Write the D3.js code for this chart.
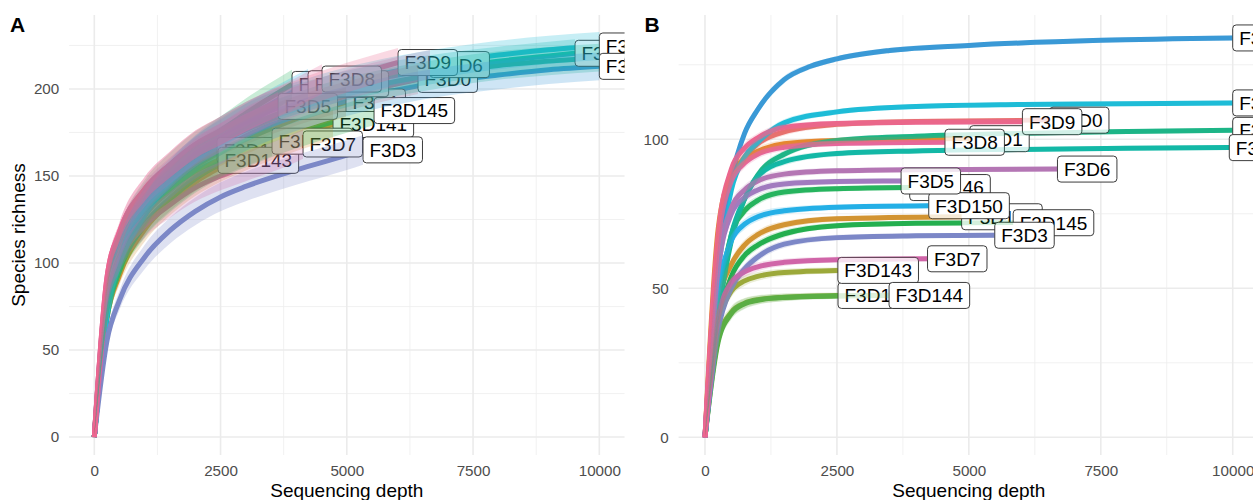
<!DOCTYPE html>
<html><head><meta charset="utf-8">
<script src="https://cdn.jsdelivr.net/npm/d3@7"></script>
<style>body{margin:0;background:#fff}svg{display:block}</style>
</head><body>
<svg id="c" width="1253" height="500"></svg>
<script>
// ---------- DATA ----------
const samples = ["F3D0","F3D1","F3D141","F3D142","F3D143","F3D144","F3D145","F3D146","F3D147","F3D148","F3D149","F3D150","F3D2","F3D3","F3D5","F3D6","F3D7","F3D8","F3D9"];
const sampleColors = ["#E8716F","#E5882F","#D39432","#7FAB3D","#9DA93A","#55B047","#25B04F","#26B45E","#1DB687","#13B8A7","#1EBCD7","#25B0E7","#3A99D6","#7C88C7","#A27BC0","#B476B5","#D066A8","#E7679A","#EC6690"];

const xTicks = [0, 2500, 5000, 7500, 10000];
const xMinor = [1250, 3750, 6250, 8750];
const yTicksA = [0, 50, 100, 150, 200];
const yMinorA = [25, 75, 125, 175, 225];
const yTicksB = [0, 50, 100];
const yMinorB = [25, 75, 125];

// ribbon half-width (sd) by depth
const sdDepths = [0, 250, 500, 1000, 2000, 3000, 5000, 10000];
const sdA = [0, 4, 5.5, 7, 8, 8.5, 8.5, 8];
const sdB = [0, 2.5, 2, 1.5, 1, 0.9, 0.8, 0.8];

// Panel A: [depth, richness]
const A_F3D0   = [[0,0],[250,85],[500,110.5],[1000,136],[1500,150.5],[2000,161.8],[2500,170],[3000,176.5],[4000,187.5],[5000,196],[6000,203],[6410,205.5]];
const A_F3D1   = [[0,0],[250,75.4],[500,101.7],[1000,128.7],[1500,143.5],[2000,155.5],[2500,164],[3000,171],[4000,183],[4984,192.5]];
const A_F3D141 = [[0,0],[250,68.2],[500,93],[1000,119.4],[1500,134.9],[2000,146.5],[2500,155],[3000,161.7],[4000,172.8],[4727,179.6]];
const A_F3D142 = [[0,0],[250,80.2],[500,106.9],[1000,133.6],[1500,147.8],[2000,159],[2430,164.7]];
const A_F3D143 = [[0,0],[250,76.5],[500,102],[1000,127.5],[1500,141.5],[2000,152.5],[2450,159]];
const A_F3D144 = [[0,0],[250,71],[500,96.4],[1000,122.5],[1500,137.5],[2000,149.3],[2500,158],[3000,164.3],[3519,170]];
const A_F3D145 = [[0,0],[250,70.7],[500,95.8],[1000,121.7],[1500,136.6],[2000,148.4],[2500,157],[3000,163.5],[4000,174.4],[5000,183.4],[5539,187.6]];
const A_F3D146 = [[0,0],[250,88],[500,114.4],[1000,140.8],[1500,155.8],[2000,167.6],[2500,176],[3000,186],[3915,202.6]];
const A_F3D147 = [[0,0],[250,68],[500,97],[1000,127.5],[1500,146.2],[2000,159.8],[2500,170],[3000,178],[4000,189.5],[5000,198],[6000,204.5],[7000,209.5],[8000,213.5],[9000,216],[10000,218]];
const A_F3D148 = [[0,0],[250,70],[500,99.8],[1000,131.3],[1500,150.5],[2000,164.5],[2500,175],[3000,183],[4000,194],[5000,202],[6000,208],[7000,212.5],[8000,216],[9000,219],[9519,220.5]];
const A_F3D149 = [[0,0],[250,70.4],[500,100.3],[1000,132],[1500,151.4],[2000,165.4],[2500,176],[3000,184],[4000,195.5],[5000,204],[6000,210.5],[7000,215.5],[8000,219.5],[9000,222.5],[10000,224.7]];
const A_F3D150 = [[0,0],[250,80],[500,107.9],[1000,136.6],[1500,152.3],[2000,165],[2500,174],[3000,183],[4000,199.5],[4232,203]];
const A_F3D2   = [[0,0],[250,75.9],[500,102.3],[1000,129.5],[1500,144.4],[2000,156.4],[2500,165],[3000,173],[4000,184.5],[5000,193],[6000,199.5],[7000,204.5],[8000,208],[9000,211],[10000,213]];
const A_F3D3   = [[0,0],[250,55.2],[500,78.7],[1000,103.5],[1500,118.7],[2000,129.7],[2500,138],[3000,144],[4000,153.5],[5000,162],[5321,165]];
const A_F3D5   = [[0,0],[250,89.4],[500,115.2],[1000,139.3],[1500,153.1],[2000,164.3],[2500,172],[3000,180],[3638,190]];
const A_F3D6   = [[0,0],[250,79.1],[500,106.6],[1000,135],[1500,150.5],[2000,163.1],[2500,172],[3000,181],[4000,193],[5000,202.5],[6000,210],[6647,214]];
const A_F3D7   = [[0,0],[250,78],[500,100.5],[1000,121.5],[1500,133.5],[2000,143.3],[2500,150],[3000,155.5],[4000,166.5],[4133,168.4]];
const A_F3D8   = [[0,0],[250,91.5],[500,117.9],[1000,142.6],[1500,156.6],[2000,168.1],[2500,176],[3000,184],[4000,198],[4509,205.7]];
const A_F3D9   = [[0,0],[250,91.5],[500,117.9],[1000,142.6],[1500,156.6],[2000,168.1],[2500,176],[3000,184],[4000,196.5],[5000,206.5],[6014,215.2]];

// Panel B: [depth, richness]
const B_F3D0   = [[0,0],[250,64],[500,86],[750,94],[1000,98.5],[1500,102.5],[2500,105],[4000,106],[6528,106.4]];
const B_F3D1   = [[0,0],[250,70],[500,88],[750,93.5],[1000,96],[1500,98.5],[2500,99.6],[5017,100.2]];
const B_F3D141 = [[0,0],[250,45],[500,58],[750,64.5],[1000,68],[1500,71.3],[2500,73.3],[4863,74]];
const B_F3D142 = [[0,0],[250,33],[500,42],[750,45],[1000,46.2],[1500,47],[2521,47.6]];
const B_F3D143 = [[0,0],[250,38],[500,49],[750,52.5],[1000,54],[1500,55.3],[2518,56]];
const B_F3D144 = [[0,0],[250,32],[500,41.5],[750,44.8],[1000,46],[1500,46.9],[2500,47.4],[3488,47.6]];
const B_F3D145 = [[0,0],[250,38],[500,54],[750,61],[1000,64.5],[1500,68.3],[2500,71],[4000,71.8],[5840,72]];
const B_F3D146 = [[0,0],[250,44],[500,68],[750,76],[1000,79.5],[1500,82.3],[2500,83.4],[3879,83.8]];
const B_F3D147 = [[0,0],[250,40],[500,66],[750,80],[1000,88],[1500,95],[2500,99.6],[4000,101],[6000,102],[8000,102.6],[10000,103]];
const B_F3D148 = [[0,0],[250,42],[500,68],[750,80],[1000,87.5],[1500,92.5],[2500,95.2],[4000,96.1],[6000,96.6],[8000,97],[9935,97.2]];
const B_F3D149 = [[0,0],[250,55],[500,83],[750,94],[1000,99],[1500,105.5],[2500,109.2],[4000,111],[6000,111.7],[10000,112.2]];
const B_F3D150 = [[0,0],[250,48],[500,66],[750,71.5],[1000,74],[1500,76],[2500,77.2],[4240,77.7]];
const B_F3D2   = [[0,0],[250,62],[500,87],[750,102],[1000,110],[1500,120],[2000,124.5],[2500,127],[3500,129.8],[5000,131.5],[7500,133.2],[10000,134]];
const B_F3D3   = [[0,0],[250,36],[500,50],[750,56.5],[1000,60.5],[1500,64.8],[2500,67],[4000,67.6],[5491,67.8]];
const B_F3D5   = [[0,0],[250,56],[500,75],[750,80.5],[1000,83],[1500,85],[2500,85.8],[3716,86]];
const B_F3D6   = [[0,0],[250,58],[500,77],[750,83],[1000,86],[1500,88.3],[2500,89.4],[4000,89.8],[6679,90]];
const B_F3D7   = [[0,0],[250,40],[500,52],[750,55.5],[1000,57.2],[1500,58.7],[2500,59.6],[4217,59.9]];
const B_F3D8   = [[0,0],[250,66],[500,86],[750,92],[1000,95],[1500,97.3],[2500,98.6],[4547,99]];
const B_F3D9   = [[0,0],[250,68],[500,90],[750,97],[1000,100.5],[1500,104],[2500,105.3],[4000,105.7],[6015,105.9]];

const seriesA = [A_F3D0,A_F3D1,A_F3D141,A_F3D142,A_F3D143,A_F3D144,A_F3D145,A_F3D146,A_F3D147,A_F3D148,A_F3D149,A_F3D150,A_F3D2,A_F3D3,A_F3D5,A_F3D6,A_F3D7,A_F3D8,A_F3D9];
const seriesB = [B_F3D0,B_F3D1,B_F3D141,B_F3D142,B_F3D143,B_F3D144,B_F3D145,B_F3D146,B_F3D147,B_F3D148,B_F3D149,B_F3D150,B_F3D2,B_F3D3,B_F3D5,B_F3D6,B_F3D7,B_F3D8,B_F3D9];

// ---------- DRAW ----------
const FONT = "'Liberation Sans', Arial, Helvetica, sans-serif";
const svg = d3.select("#c");
const PT = 15, PB = 455;

function drawPanel(cfg) {
  const x = d3.scaleLinear().domain([-500, 10500]).range([cfg.left, cfg.right]);
  const y = d3.scaleLinear().domain(cfg.yDomain).range([PB, PT]);
  const sd = d3.scaleLinear().domain(sdDepths).range(cfg.sd).clamp(true);

  const clipId = "clip" + cfg.tag;
  svg.append("clipPath").attr("id", clipId).append("rect")
    .attr("x", cfg.left).attr("y", PT).attr("width", cfg.right - cfg.left).attr("height", PB - PT);

  const grid = svg.append("g");
  grid.selectAll(".vmin").data(xMinor).join("line")
    .attr("x1", d => x(d)).attr("x2", d => x(d)).attr("y1", PT).attr("y2", PB)
    .attr("stroke", "#EEEEEE").attr("stroke-width", 0.8);
  grid.selectAll(".hmin").data(cfg.yMinor).join("line")
    .attr("x1", cfg.left).attr("x2", cfg.right).attr("y1", d => y(d)).attr("y2", d => y(d))
    .attr("stroke", "#EEEEEE").attr("stroke-width", 0.8);
  grid.selectAll(".vmaj").data(xTicks).join("line")
    .attr("x1", d => x(d)).attr("x2", d => x(d)).attr("y1", PT).attr("y2", PB)
    .attr("stroke", "#EBEBEB").attr("stroke-width", 1.6);
  grid.selectAll(".hmaj").data(cfg.yTicks).join("line")
    .attr("x1", cfg.left).attr("x2", cfg.right).attr("y1", d => y(d)).attr("y2", d => y(d))
    .attr("stroke", "#EBEBEB").attr("stroke-width", 1.6);

  const plot = svg.append("g").attr("clip-path", `url(#${clipId})`);

  const line = d3.line().x(d => x(d[0])).y(d => y(d[1])).curve(d3.curveMonotoneX);
  const area = d3.area().x(d => x(d[0]))
    .y0(d => y(d[1] - sd(d[0]))).y1(d => y(d[1] + sd(d[0]))).curve(d3.curveMonotoneX);

  // lines
  cfg.series.forEach((s, i) => {
    plot.append("path").attr("d", line(s)).attr("fill", "none")
      .attr("stroke", sampleColors[i]).attr("stroke-width", 5);
  });
  // labels
  cfg.series.forEach((s, i) => {
    const last = s[s.length - 1];
    const lx = x(last[0]), ly = y(last[1]);
    const g = plot.append("g");
    const rect = g.append("rect");
    const t = g.append("text").text(samples[i])
      .attr("x", lx + 6.5).attr("y", ly + 6.9)
      .attr("font-family", FONT).attr("font-size", 19).attr("fill", "#000");
    const tw = t.node().getComputedTextLength();
    rect.attr("x", lx).attr("y", ly - 13).attr("width", tw + 13).attr("height", 26)
      .attr("rx", 3.5).attr("ry", 3.5).attr("fill", "#fff")
      .attr("stroke", "#262626").attr("stroke-width", 0.9);
  });
  // ribbons
  cfg.series.forEach((s, i) => {
    plot.append("path").attr("d", area(s)).attr("fill", sampleColors[i])
      .attr("fill-opacity", cfg.ribbonAlpha).attr("stroke", "none");
  });

  // axes
  const ax = svg.append("g").attr("transform", `translate(0,${PB})`)
    .call(d3.axisBottom(x).tickValues(xTicks).tickSize(0).tickPadding(10.2).tickFormat(d3.format("d")));
  const ay = svg.append("g").attr("transform", `translate(${cfg.left},0)`)
    .call(d3.axisLeft(y).tickValues(cfg.yTicks).tickSize(0).tickPadding(9.8).tickFormat(d3.format("d")));
  [ax, ay].forEach(a => {
    a.select(".domain").remove();
    a.selectAll("text").attr("font-family", FONT).attr("font-size", 15.2).attr("fill", "#4D4D4D");
  });

  svg.append("text").text("Sequencing depth")
    .attr("x", (cfg.left + cfg.right) / 2).attr("y", 497)
    .attr("text-anchor", "middle").attr("font-family", FONT).attr("font-size", 19).attr("fill", "#000");

  svg.append("text").text(cfg.tag)
    .attr("x", cfg.tagX).attr("y", 32)
    .attr("font-family", FONT).attr("font-size", 21).attr("font-weight", "bold").attr("fill", "#000");
}

drawPanel({ tag: "A", tagX: 10, left: 69.05, right: 624.55, yDomain: [-10.3, 242.5],
  yTicks: yTicksA, yMinor: yMinorA, sd: sdA, series: seriesA, ribbonAlpha: 0.25 });
drawPanel({ tag: "B", tagX: 644.5, left: 678.6, right: 1259.1, yDomain: [-5.94, 141.7],
  yTicks: yTicksB, yMinor: yMinorB, sd: sdB, series: seriesB, ribbonAlpha: 0.2 });

svg.append("text").text("Species richness")
  .attr("transform", "translate(24.5,235) rotate(-90)")
  .attr("text-anchor", "middle").attr("font-family", FONT).attr("font-size", 19).attr("fill", "#000");
</script>
</body></html>
